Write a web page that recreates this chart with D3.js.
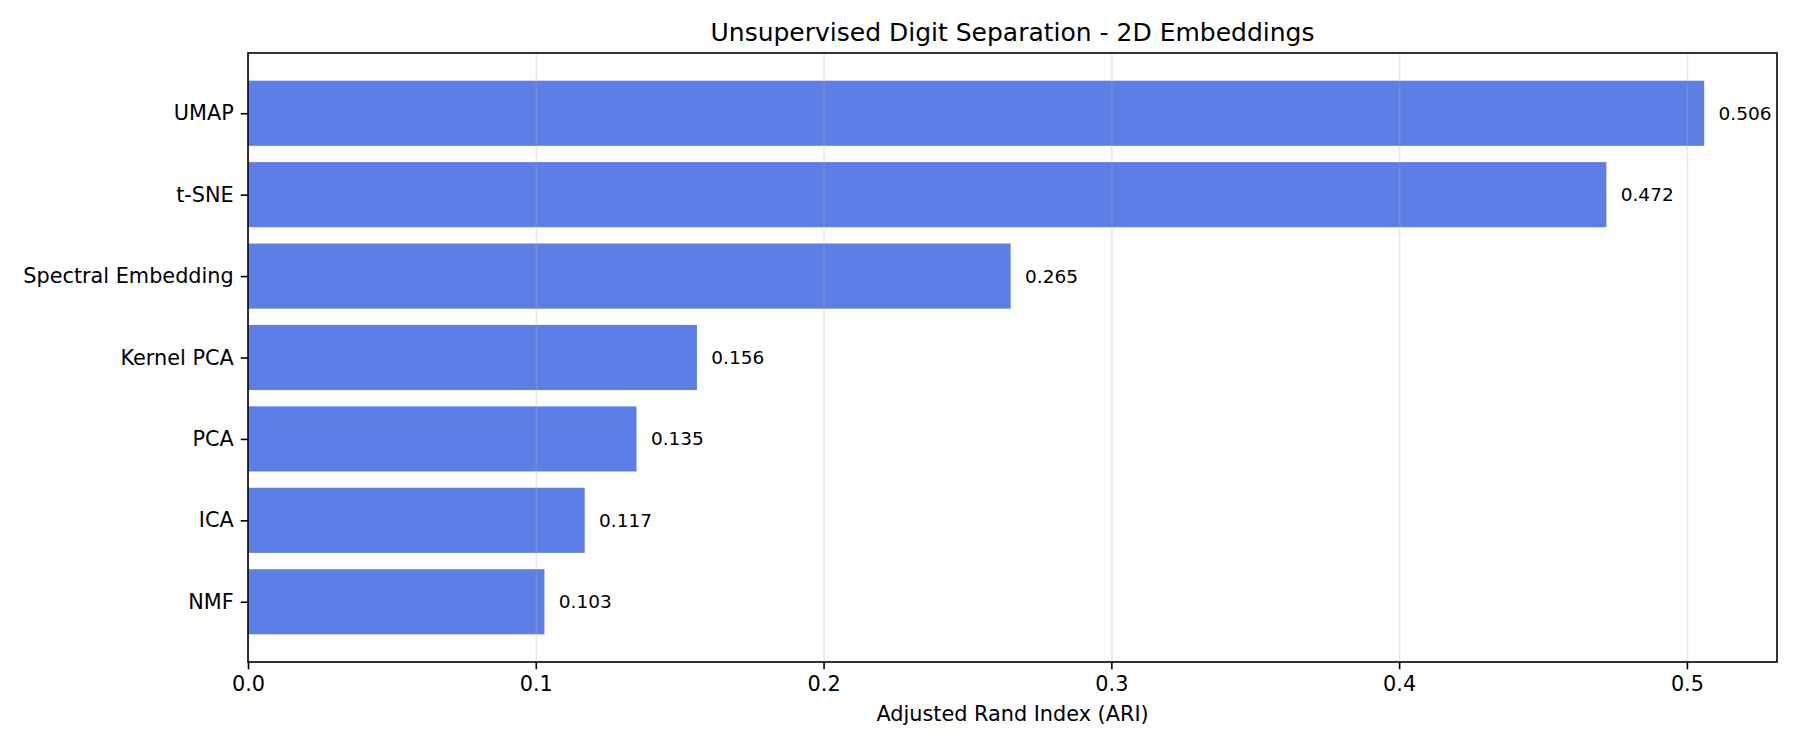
<!DOCTYPE html>
<html>
<head>
<meta charset="utf-8">
<script src="https://cdn.jsdelivr.net/npm/d3@7"></script>
<style>
  body { margin: 0; background: #fff; }
  svg text { font-family: "DejaVu Sans", sans-serif; fill: #000; }
  .gridline line { stroke: #b0b0b0; stroke-opacity: 0.3; stroke-width: 1.6; }
  .gridline path { display: none; }
  .axis path, .axis line { stroke: #000; stroke-width: 1.6; }
  .axis path { display: none; }
</style>
</head>
<body>
<div class="chart"></div>
<script>
// methods, top to bottom
const methods = ["UMAP", "t-SNE", "Spectral Embedding", "Kernel PCA", "PCA", "ICA", "NMF"];
// adjusted rand index per method
const ariValues = [0.506, 0.472, 0.265, 0.156, 0.135, 0.117, 0.103];
const xTicks = [0.0, 0.1, 0.2, 0.3, 0.4, 0.5];

const w = 1800;
const h = 750;
const margin = { top: 53, bottom: 88, left: 248, right: 23 };
const width = w - margin.left - margin.right;
const height = h - margin.top - margin.bottom;

// matplotlib style: xlim = max * 1.05, y margin 0.05 around bars
const x = d3.scaleLinear()
  .domain([0, d3.max(ariValues) * 1.05])
  .range([0, width]);
const y = d3.scaleLinear()
  .domain([-0.74, methods.length - 1 + 0.74])
  .range([0, height]);
const barH = y(0.8) - y(0);

const svg = d3.select(".chart").append("svg")
  .attr("width", w)
  .attr("height", h);

const chart = svg.append("g")
  .attr("transform", "translate(" + margin.left + "," + margin.top + ")");

// bars
chart.selectAll(".bar")
  .data(methods)
  .enter()
  .append("rect")
  .classed("bar", true)
  .attr("x", x(0))
  .attr("y", (d, i) => y(i) - barH / 2)
  .attr("width", (d, i) => x(ariValues[i]) - x(0))
  .attr("height", barH)
  .style("fill", "royalblue")
  .style("fill-opacity", 0.85);

// vertical gridlines, drawn over the bars like in the original
chart.append("g")
  .classed("gridline", true)
  .attr("transform", "translate(0," + height + ")")
  .call(d3.axisBottom(x).tickValues(xTicks).tickSize(-height).tickFormat(""));

// value labels
chart.selectAll(".bar-label")
  .data(methods)
  .enter()
  .append("text")
  .classed("bar-label", true)
  .attr("x", (d, i) => x(ariValues[i] + 0.005))
  .attr("y", (d, i) => y(i))
  .attr("dy", "0.35em")
  .style("font-size", "18.5px")
  .text((d, i) => ariValues[i].toFixed(3));

// x axis
const xAxisG = chart.append("g")
  .classed("axis", true)
  .attr("transform", "translate(0," + height + ")")
  .call(d3.axisBottom(x).tickValues(xTicks).tickSize(7.3).tickPadding(7).tickFormat(d3.format(".1f")));
xAxisG.selectAll("text").style("font-size", "20.8px");

// y axis
const yAxisG = chart.append("g")
  .classed("axis", true)
  .call(d3.axisLeft(y).tickValues(d3.range(methods.length)).tickSize(7.3).tickPadding(7)
    .tickFormat(i => methods[i]));
yAxisG.selectAll("text").style("font-size", "20.8px");

// frame
chart.append("rect")
  .attr("x", 0)
  .attr("y", 0)
  .attr("width", width)
  .attr("height", height)
  .style("fill", "none")
  .style("stroke", "#000")
  .style("stroke-width", 1.6);

// title
svg.append("text")
  .attr("x", margin.left + width / 2)
  .attr("y", margin.top - 12.5)
  .style("text-anchor", "middle")
  .style("font-size", "25px")
  .text("Unsupervised Digit Separation - 2D Embeddings");

// x label
svg.append("text")
  .attr("x", margin.left + width / 2)
  .attr("y", margin.top + height + 59)
  .style("text-anchor", "middle")
  .style("font-size", "20.8px")
  .text("Adjusted Rand Index (ARI)");
</script>
</body>
</html>
